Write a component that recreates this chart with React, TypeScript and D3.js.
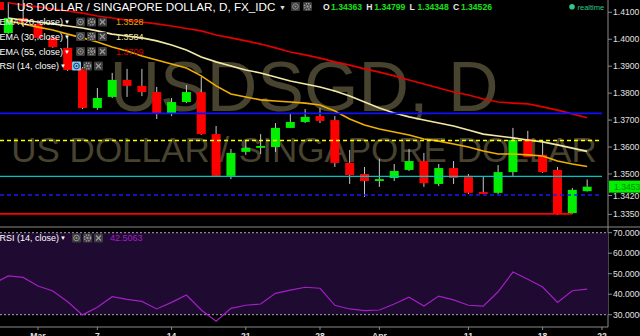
import React, { useEffect } from 'react';
import * as d3 from 'd3';

// ---------- data ----------
const dates = [
  '2016-02-25', '2016-02-26', '2016-02-29', '2016-03-01', '2016-03-02', '2016-03-03', '2016-03-04',
  '2016-03-07', '2016-03-08', '2016-03-09', '2016-03-10', '2016-03-11',
  '2016-03-14', '2016-03-15', '2016-03-16', '2016-03-17', '2016-03-18',
  '2016-03-21', '2016-03-22', '2016-03-23', '2016-03-24', '2016-03-25',
  '2016-03-28', '2016-03-29', '2016-03-30', '2016-03-31', '2016-04-01',
  '2016-04-04', '2016-04-05', '2016-04-06', '2016-04-07', '2016-04-08',
  '2016-04-11', '2016-04-12', '2016-04-13', '2016-04-14', '2016-04-15',
  '2016-04-18', '2016-04-19', '2016-04-20', '2016-04-21', '2016-04-22',
];
const candleDates = dates.slice(1, 41);
const opens = [1.4023, 1.4079, 1.4057, 1.4005, 1.3968, 1.3893, 1.3745, 1.3786, 1.3849, 1.3827, 1.3804, 1.3726, 1.3767, 1.3804, 1.3648, 1.3493, 1.3582, 1.3597, 1.3600, 1.3671, 1.3693, 1.3715, 1.3700, 1.3541, 1.3500, 1.3474, 1.3485, 1.3515, 1.3548, 1.3463, 1.3522, 1.3493, 1.3433, 1.3430, 1.3507, 1.3630, 1.3571, 1.3515, 1.3355, 1.34363];
const highs = [1.4138, 1.4146, 1.4071, 1.4012, 1.4005, 1.3897, 1.3819, 1.3875, 1.3890, 1.3890, 1.3823, 1.3782, 1.3830, 1.3860, 1.3678, 1.3593, 1.3626, 1.3648, 1.3689, 1.3726, 1.3741, 1.3745, 1.3715, 1.3589, 1.3526, 1.3556, 1.3537, 1.3593, 1.3578, 1.3537, 1.3548, 1.3500, 1.3489, 1.3533, 1.3671, 1.3660, 1.3626, 1.3526, 1.3448, 1.34799];
const lows = [1.4020, 1.4049, 1.3997, 1.3968, 1.3882, 1.3741, 1.3738, 1.3782, 1.3786, 1.3789, 1.3704, 1.3715, 1.3763, 1.3645, 1.3489, 1.3481, 1.3571, 1.3574, 1.3582, 1.3671, 1.3689, 1.3689, 1.3526, 1.3463, 1.3415, 1.3452, 1.3474, 1.3511, 1.3452, 1.3455, 1.3463, 1.3426, 1.3426, 1.3426, 1.3493, 1.3563, 1.3504, 1.3348, 1.3352, 1.34348];
const closes = [1.4079, 1.4064, 1.4005, 1.3971, 1.3886, 1.3745, 1.3782, 1.3849, 1.3827, 1.3804, 1.3726, 1.3767, 1.3804, 1.3648, 1.3493, 1.3578, 1.3597, 1.3604, 1.3671, 1.3693, 1.3712, 1.3697, 1.3541, 1.3496, 1.3474, 1.3481, 1.3511, 1.3548, 1.3466, 1.3522, 1.3485, 1.3430, 1.3426, 1.3507, 1.3626, 1.3563, 1.3507, 1.3355, 1.3441, 1.34526];

const ema20 = [1.4068, 1.4057, 1.4045, 1.4034, 1.4019, 1.4005, 1.3990, 1.3971, 1.3956, 1.3938, 1.3923, 1.3908, 1.3893, 1.3864, 1.3827, 1.3797, 1.3786, 1.3775, 1.3771, 1.3767, 1.3763, 1.3756, 1.3734, 1.3704, 1.3682, 1.3667, 1.3656, 1.3645, 1.3630, 1.3622, 1.3611, 1.3600, 1.3585, 1.3574, 1.3574, 1.3571, 1.3567, 1.3548, 1.3537, 1.3528];
const ema30 = [1.4079, 1.4071, 1.4064, 1.4057, 1.4049, 1.4042, 1.4031, 1.4019, 1.4012, 1.4005, 1.3994, 1.3979, 1.3960, 1.3934, 1.3916, 1.3901, 1.3886, 1.3875, 1.3860, 1.3845, 1.3834, 1.3823, 1.3808, 1.3789, 1.3767, 1.3745, 1.3726, 1.3712, 1.3700, 1.3689, 1.3678, 1.3663, 1.3648, 1.3641, 1.3634, 1.3626, 1.3619, 1.3608, 1.3596, 1.3584];
const ema55 = [1.4135, 1.4127, 1.4120, 1.4112, 1.4105, 1.4097, 1.4086, 1.4079, 1.4071, 1.4064, 1.4057, 1.4049, 1.4040, 1.4031, 1.4016, 1.4005, 1.3994, 1.3982, 1.3968, 1.3953, 1.3942, 1.3930, 1.3916, 1.3904, 1.3890, 1.3878, 1.3864, 1.3849, 1.3834, 1.3819, 1.3804, 1.3793, 1.3778, 1.3767, 1.3763, 1.3760, 1.3749, 1.3737, 1.3723, 1.3709];

const rsiDates = dates.slice(0, 41);
const rsi = [45.2, 48.9, 48.2, 44.0, 41.6, 36.3, 29.9, 33.6, 38.8, 37.5, 36.5, 32.8, 36.0, 39.6, 32.3, 26.8, 33.1, 34.6, 35.2, 40.4, 42.0, 43.4, 42.9, 34.6, 32.8, 32.0, 32.3, 35.2, 38.5, 34.2, 39.1, 37.2, 34.6, 34.2, 41.2, 50.8, 47.3, 43.5, 36.0, 41.7, 42.5063];

const levelPrices = [1.3725, 1.3624, 1.3491, 1.3422, 1.3352];
const levelEndDates = ['2016-04-22', '2016-04-22', '2016-04-22', '2016-04-22', '2016-04-20'];

const priceTicks = [1.41, 1.40, 1.39, 1.38, 1.37, 1.36, 1.35];
const priceMarks = [1.342, 1.335];
const lastPrice = 1.3453;
const rsiTicks = [70, 60, 50, 40, 30];
const rsiBand = [70, 30];
const xTickDates = ['2016-03-01', '2016-03-07', '2016-03-14', '2016-03-21', '2016-03-28', '2016-04-01', '2016-04-11', '2016-04-18', '2016-04-22'];
const xTickLabels = ['Mar', '7', '14', '21', '28', 'Apr', '11', '18', '22'];

const titleText = 'US DOLLAR / SINGAPORE DOLLAR, D, FX_IDC';
const watermarkMain = 'USDSGD, D';
const watermarkSub = 'US DOLLAR / SINGAPORE DOLLAR';
const ohlcKeys = ['O', 'H', 'L', 'C'];
const ohlcValues = [1.34363, 1.34799, 1.34348, 1.34526];
const emaNames = ['EMA (20, close)', 'EMA (30, close)', 'EMA (55, close)'];
const emaLast = [1.3528, 1.3584, 1.3709];
const rsiName = 'RSI (14, close)';
const rsiLast = 42.5063;

// ---------- styles ----------
const W = 640;
const H = 336;
const AXIS_X = 608;
const FONT = '"Liberation Sans", Arial, Helvetica, sans-serif';
const UP = '#00f000';
const DOWN = '#ff0000';
const EMA_COLORS = ['#f0b000', '#f3e9a6', '#e40000'];
const LEGEND_VALUE_COLORS = ['#e8a600', '#efe4a0', '#d80000'];
const LEVEL_STYLES = [
  { stroke: '#1010ff', dash: '', w: 1.6 },
  { stroke: '#ffff00', dash: '4,3', w: 1.6 },
  { stroke: '#00c4c4', dash: '', w: 1.2 },
  { stroke: '#1a1aff', dash: '4,3', w: 1.6 },
  { stroke: '#ff0000', dash: '', w: 1.6 },
];
const RSI_COLOR = '#a21fc4';

function Icon({ x, y, kind, hl }: { x: number; y: number; kind: string; hl?: boolean }) {
  const c = hl ? '#1b3a55' : '#9a9a9a';
  return (
    <g>
      <rect x={x} y={y} width={9} height={9} rx={1} fill={hl ? '#7fc6f0' : '#3c3c3c'} />
      {kind === 'eye' && (
        <g>
          <circle cx={x + 4.5} cy={y + 4.5} r={2.8} fill="none" stroke={c} strokeWidth={1} />
          <circle cx={x + 4.5} cy={y + 4.5} r={1} fill={c} />
        </g>
      )}
      {kind === 'gear' && (
        <g>
          <circle cx={x + 4.5} cy={y + 4.5} r={3} fill="none" stroke={c} strokeWidth={1.6} strokeDasharray="1.4,1" />
          <circle cx={x + 4.5} cy={y + 4.5} r={1.2} fill={c} />
        </g>
      )}
      {kind === 'x' && (
        <g stroke={c} strokeWidth={1.2}>
          <line x1={x + 2} y1={y + 2} x2={x + 7} y2={y + 7} />
          <line x1={x + 7} y1={y + 2} x2={x + 2} y2={y + 7} />
        </g>
      )}
    </g>
  );
}

export default function App() {
  useEffect(() => {
    document.body.style.margin = '0';
    document.body.style.background = '#000';
  }, []);

  const x = d3.scalePoint<string>().domain(dates).range([-6.53, 602]);
  const y = d3.scaleLinear().domain([1.335, 1.41]).range([214.4, 12.3]);
  const yr = d3.scaleLinear().domain([30, 70]).range([314.7, 232.7]);
  const bodyW = 9;

  const lineGen = (vals: number[]) =>
    d3.line<number>()
      .x((_, i) => x(candleDates[i]) as number)
      .y((v) => y(v))(vals) as string;

  const rsiPath = d3.line<number>()
    .x((_, i) => x(rsiDates[i]) as number)
    .y((v) => yr(v))(rsi) as string;

  const legendRows = [25, 39.5, 54.5];

  return (
    <svg width={W} height={H} style={{ display: 'block', position: 'absolute', left: 0, top: 0 }} fontFamily={FONT}>
      <defs>
        <clipPath id="pane">
          <rect x={0} y={0} width={AXIS_X} height={226} />
        </clipPath>
        <clipPath id="rsipane">
          <rect x={0} y={228} width={AXIS_X} height={99} />
        </clipPath>
      </defs>
      <rect x={0} y={0} width={W} height={H} fill="#000" />

      {/* watermark */}
      <g clipPath="url(#pane)">
        <text x={AXIS_X / 2} y={111} textAnchor="middle" fontSize={70} fill="#48432f">{watermarkMain}</text>
        <text x={AXIS_X / 2} y={162} textAnchor="middle" fontSize={35} fill="#48432f">{watermarkSub}</text>
      </g>

      {/* candles */}
      <g clipPath="url(#pane)">
        {candleDates.map((d, i) => {
          const cx = x(d) as number;
          const up = closes[i] >= opens[i];
          const top = y(Math.max(opens[i], closes[i]));
          const bot = y(Math.min(opens[i], closes[i]));
          return (
            <g key={d}>
              <line x1={cx} x2={cx} y1={y(highs[i])} y2={y(lows[i])} stroke="#c8c8c8" strokeWidth={1} />
              <rect x={cx - bodyW / 2} y={top} width={bodyW} height={Math.max(1.5, bot - top)} fill={up ? UP : DOWN} />
            </g>
          );
        })}
      </g>

      {/* EMAs */}
      <g clipPath="url(#pane)" fill="none" strokeWidth={1.6}>
        <path d={lineGen(ema55)} stroke={EMA_COLORS[2]} />
        <path d={lineGen(ema30)} stroke={EMA_COLORS[1]} />
        <path d={lineGen(ema20)} stroke={EMA_COLORS[0]} />
      </g>

      {/* horizontal levels */}
      <g clipPath="url(#pane)">
        {levelPrices.map((p, i) => (
          <line key={i} x1={0} x2={x(levelEndDates[i]) as number} y1={y(p)} y2={y(p)}
            stroke={LEVEL_STYLES[i].stroke} strokeWidth={LEVEL_STYLES[i].w}
            strokeDasharray={LEVEL_STYLES[i].dash || undefined} />
        ))}
      </g>

      {/* title & header */}
      <rect x={0} y={2} width={4} height={8} fill="#e00" />
      <text x={17} y={11} fontSize={11.7} fill="#fff">{titleText}</text>
      <text x={279} y={10} fontSize={7} fill="#ddd">▼</text>
      <Icon x={291} y={2} kind="eye" />
      <Icon x={303} y={2} kind="gear" />

      <text y={10} fontSize={8.6} fontWeight="bold">
        {ohlcKeys.map((k, i) => (
          <React.Fragment key={k}>
            <tspan x={323 + i * 43.3} fill="#e8e8e8">{k}</tspan>
            <tspan x={331 + i * 43.3} fill="#18e018">{ohlcValues[i].toFixed(5)}</tspan>
          </React.Fragment>
        ))}
      </text>
      <circle cx={572} cy={6.7} r={2.8} fill="#2ec98a" />
      <text x={577.5} y={9.5} fontSize={7.5} fill="#2ec98a">realtime</text>

      {/* indicator legend */}
      {emaNames.map((n, i) => (
        <g key={n}>
          <text x={-0.5} y={legendRows[i]} fontSize={9} fill="#fff">{n}</text>
          <text x={64} y={legendRows[i] - 1} fontSize={6} fill="#fff">▼</text>
          <Icon x={76} y={legendRows[i] - 7.5} kind="eye" />
          <Icon x={87} y={legendRows[i] - 7.5} kind="gear" />
          <Icon x={98} y={legendRows[i] - 7.5} kind="x" />
          <text x={116} y={legendRows[i]} fontSize={9} fill={LEGEND_VALUE_COLORS[i]}>{emaLast[i].toFixed(4)}</text>
        </g>
      ))}
      <text x={-0.5} y={69} fontSize={9} fill="#fff">{rsiName}</text>
      <text x={60} y={68} fontSize={6} fill="#fff">▼</text>
      <Icon x={72} y={61.5} kind="eye" hl />
      <Icon x={83} y={61.5} kind="gear" />
      <Icon x={94} y={61.5} kind="x" />

      {/* price axis */}
      <line x1={AXIS_X} x2={AXIS_X} y1={0} y2={327} stroke="#8a8a8a" strokeWidth={1} />
      {priceTicks.map((p) => (
        <g key={p}>
          <line x1={AXIS_X} x2={AXIS_X + 4} y1={y(p)} y2={y(p)} stroke="#8a8a8a" />
          <text x={613} y={y(p) + 3} fontSize={8.6} fill="#e0e0e0">{p.toFixed(4)}</text>
        </g>
      ))}
      {priceMarks.map((p) => (
        <g key={p}>
          <line x1={AXIS_X} x2={AXIS_X + 4} y1={y(p)} y2={y(p)} stroke="#8a8a8a" />
          <text x={613} y={y(p) + 3} fontSize={8.6} fill="#e0e0e0">{p.toFixed(4)}</text>
        </g>
      ))}
      <rect x={AXIS_X + 1} y={y(lastPrice) - 6} width={31} height={12} fill="#00f000" />
      <text x={614} y={y(lastPrice) + 3} fontSize={8.6} fill="#078a07">{lastPrice.toFixed(4)}</text>

      {/* separator */}
      <line x1={0} x2={W} y1={227} y2={227} stroke="#8a8a8a" strokeWidth={1} />

      {/* RSI pane */}
      <rect x={0} y={yr(rsiBand[0])} width={AXIS_X} height={yr(rsiBand[1]) - yr(rsiBand[0])} fill="#1f0a31" />
      {rsiBand.map((v) => (
        <line key={v} x1={0} x2={AXIS_X} y1={yr(v)} y2={yr(v)} stroke="#d0d0d0" strokeWidth={0.8} strokeDasharray="2,2" />
      ))}
      <path d={rsiPath} fill="none" stroke={RSI_COLOR} strokeWidth={1.2} clipPath="url(#rsipane)" />
      <text x={-0.5} y={241} fontSize={9} fill="#fff">{rsiName}</text>
      <text x={60} y={240} fontSize={6} fill="#fff">▼</text>
      <Icon x={72} y={233.5} kind="eye" />
      <Icon x={83} y={233.5} kind="gear" />
      <Icon x={94} y={233.5} kind="x" />
      <text x={110} y={241} fontSize={9} fill={RSI_COLOR}>{rsiLast.toFixed(4)}</text>
      {rsiTicks.map((v) => (
        <g key={v}>
          <line x1={AXIS_X} x2={AXIS_X + 4} y1={yr(v)} y2={yr(v)} stroke="#8a8a8a" />
          <text x={613} y={yr(v) + 3} fontSize={8.6} fill="#e0e0e0">{v.toFixed(4)}</text>
        </g>
      ))}

      {/* time axis */}
      <line x1={0} x2={AXIS_X} y1={327} y2={327} stroke="#8a8a8a" strokeWidth={1} />
      {xTickDates.map((d, i) => (
        <g key={d}>
          <line x1={x(d) as number} x2={x(d) as number} y1={327} y2={330} stroke="#8a8a8a" />
          <text x={x(d) as number} y={338.5} textAnchor="middle" fontSize={8.6} fontWeight="bold" fill="#e0e0e0">{xTickLabels[i]}</text>
        </g>
      ))}
    </svg>
  );
}
